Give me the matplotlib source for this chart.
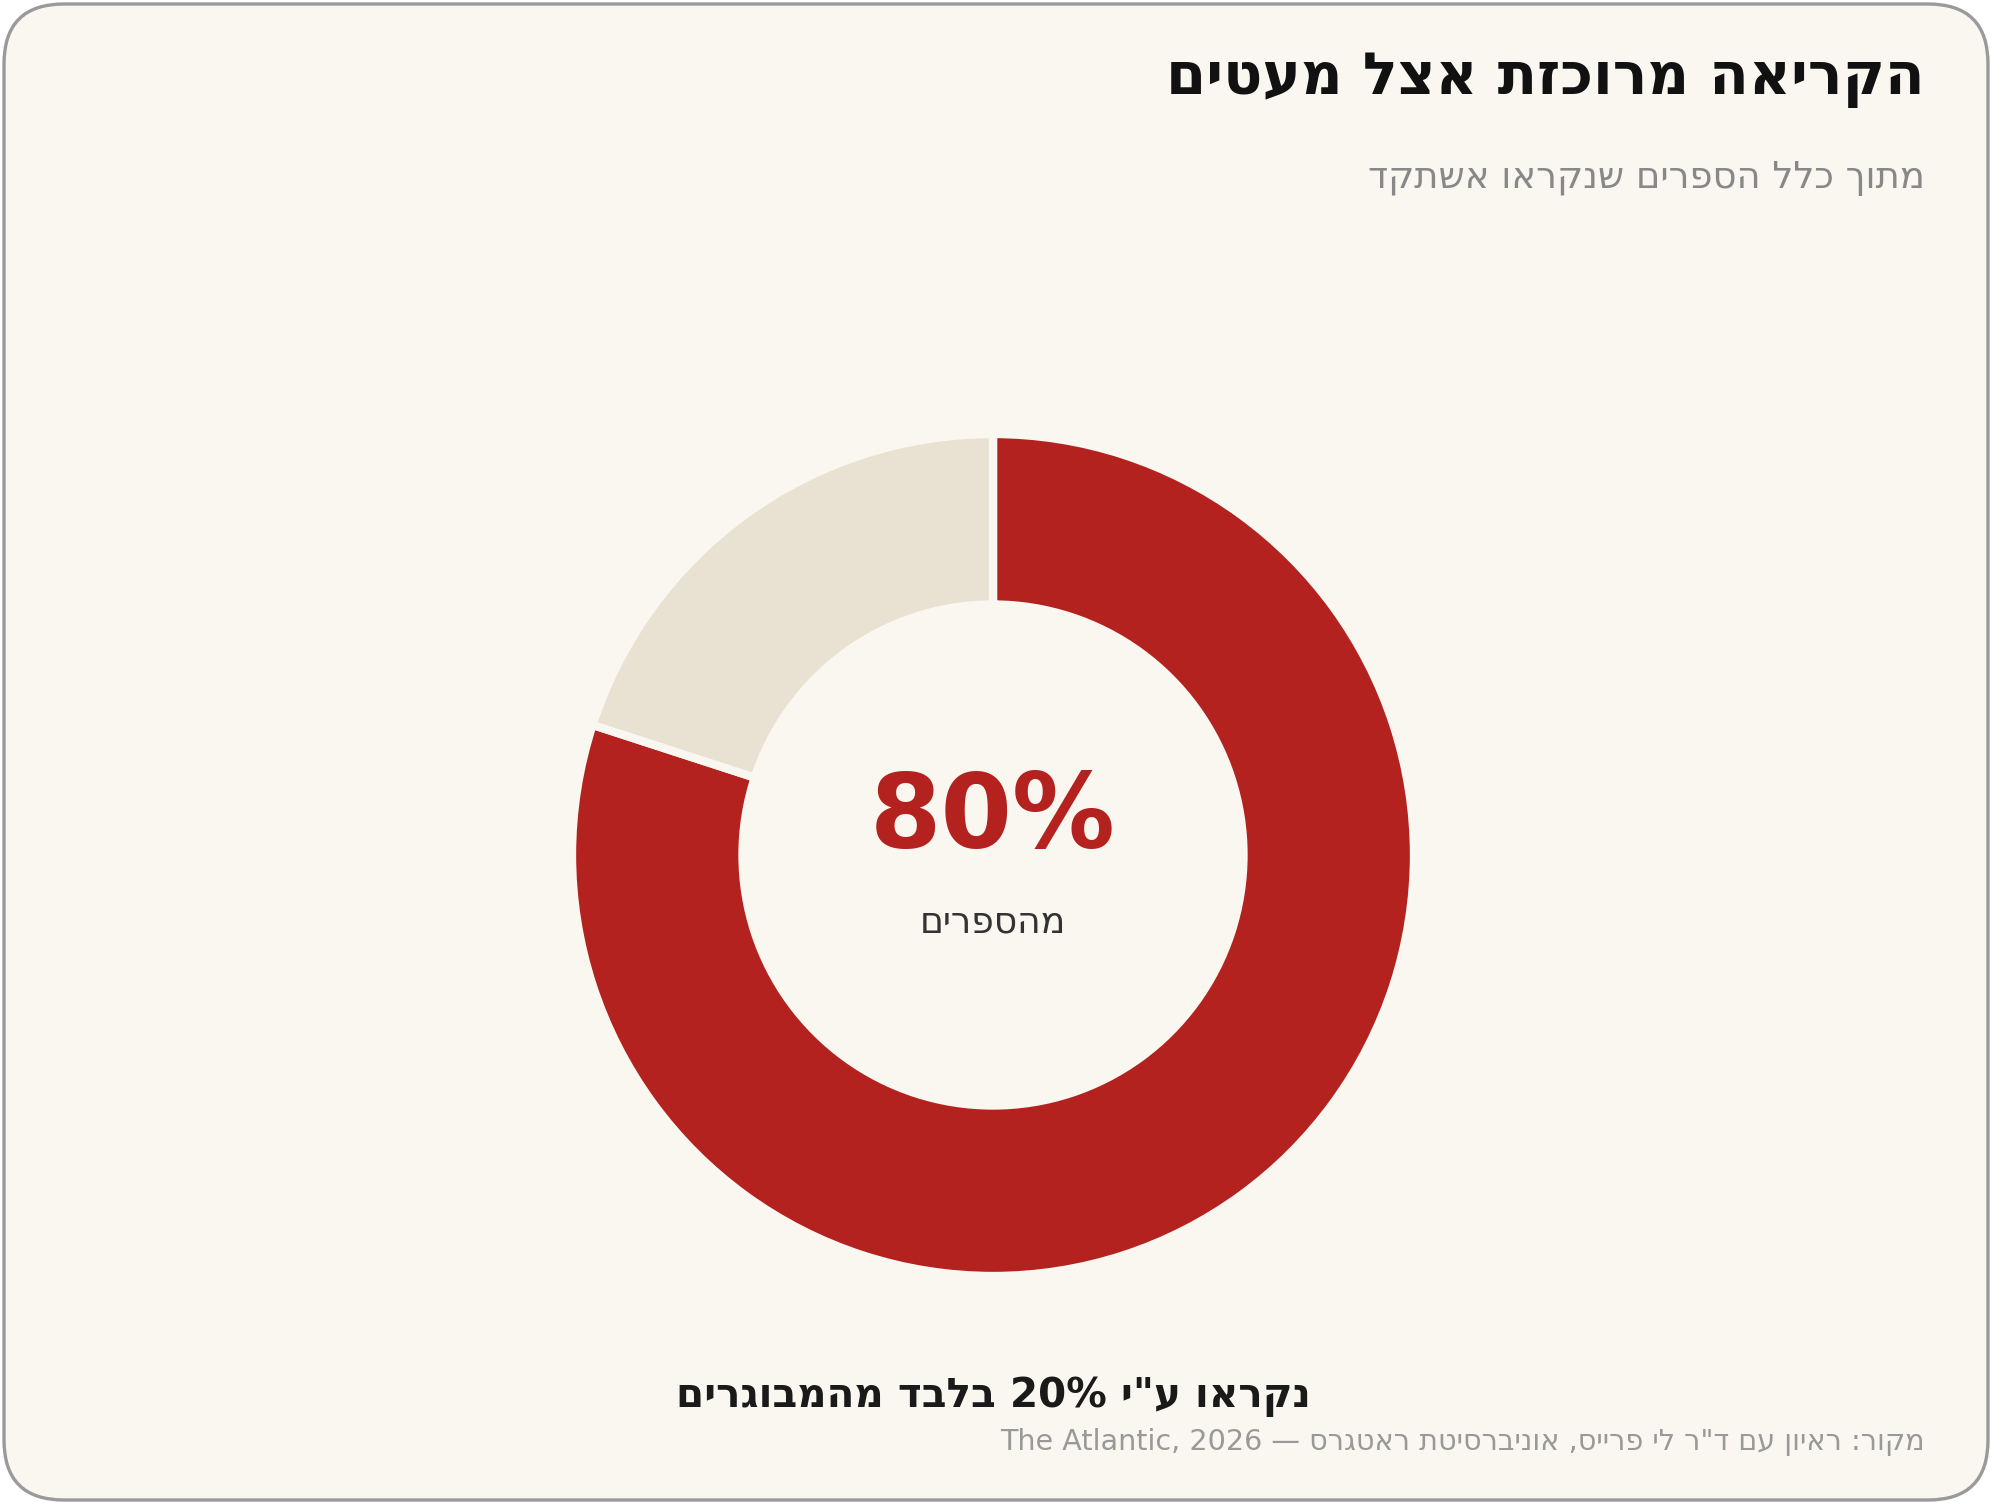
import matplotlib
matplotlib.use('Agg')

import matplotlib.pyplot as plt
from matplotlib.patches import FancyBboxPatch

plt.rcParams['font.family'] = ['DejaVu Sans']

# data
labels = ['מבוגרים שקוראים הרבה', 'שאר הקוראים']
shares = [80, 20]
colors = ['#B3221E', '#E9E2D2']

title = 'הקריאה מרוכזת אצל מעטים'
subtitle = 'מתוך כלל הספרים שנקראו אשתקד'
center_value = '80%'
center_label = 'מהספרים'
bottom_note = 'נקראו ע"י 20% בלבד מהמבוגרים'
source = 'מקור: ראיון עם ד"ר לי פרייס, אוניברסיטת ראטגרס — The Atlantic, 2026'

bg = '#FAF7F1'


def is_hebrew(tok):
    return any('\u0590' <= c <= '\u05ff' for c in tok)


def is_ltr(tok):
    return any(c.isascii() and c.isalnum() for c in tok) and not is_hebrew(tok)


def rtl(s):
    # very small bidi: reverse hebrew words, keep latin/number runs in order
    runs = []
    ltr_run = []
    for tok in s.split(' '):
        if is_ltr(tok):
            ltr_run.append(tok)
        else:
            if ltr_run:
                runs.append(' '.join(ltr_run))
                ltr_run = []
            runs.append(tok[::-1])
    if ltr_run:
        runs.append(' '.join(ltr_run))
    return ' '.join(reversed(runs))


W, H = 1992, 1504
fig = plt.figure(figsize=(W / 200, H / 200), dpi=200)
fig.patch.set_facecolor('white')

# rounded card behind everything
card = FancyBboxPatch((0.02, 0.02), W / 200 - 0.04, H / 200 - 0.04,
                      boxstyle='round,pad=0,rounding_size=0.3',
                      transform=fig.dpi_scale_trans,
                      facecolor=bg, edgecolor='#9A9A9A', linewidth=1.2,
                      zorder=-10)
fig.add_artist(card)

# donut
cx, cy, r = 993, 855, 421
ax = fig.add_axes([(cx - r) / W, 1 - (cy + r) / H, 2 * r / W, 2 * r / H])
ax.set_zorder(5)
ax.set_facecolor('none')
ax.pie(shares, colors=colors, startangle=90, counterclock=False,
       wedgeprops=dict(width=0.405, edgecolor=bg, linewidth=3))
ax.set_xlim(-1, 1)
ax.set_ylim(-1, 1)
ax.set_aspect('equal')
ax.axis('off')

ax.text(0, 0.085, center_value, ha='center', va='center',
        fontsize=37, fontweight='bold', color=colors[0])
ax.text(0, -0.16, rtl(center_label), ha='center', va='center',
        fontsize=13, color='#333333')


def px(x, y):
    return x / W, 1 - y / H


fig.text(*px(1925, 80), rtl(title), ha='right', va='center',
         fontsize=20.8, fontweight='bold', color='#111111')
fig.text(*px(1925, 177), rtl(subtitle), ha='right', va='center',
         fontsize=13.3, color='#888888')
fig.text(*px(993, 1397), rtl(bottom_note), ha='center', va='center',
         fontsize=14.6, fontweight='bold', color='#1A1A1A')
fig.text(*px(1925, 1442), rtl(source), ha='right', va='center',
         fontsize=10.3, color='#999999')

fig.savefig('out.png', dpi=200, facecolor='white')
